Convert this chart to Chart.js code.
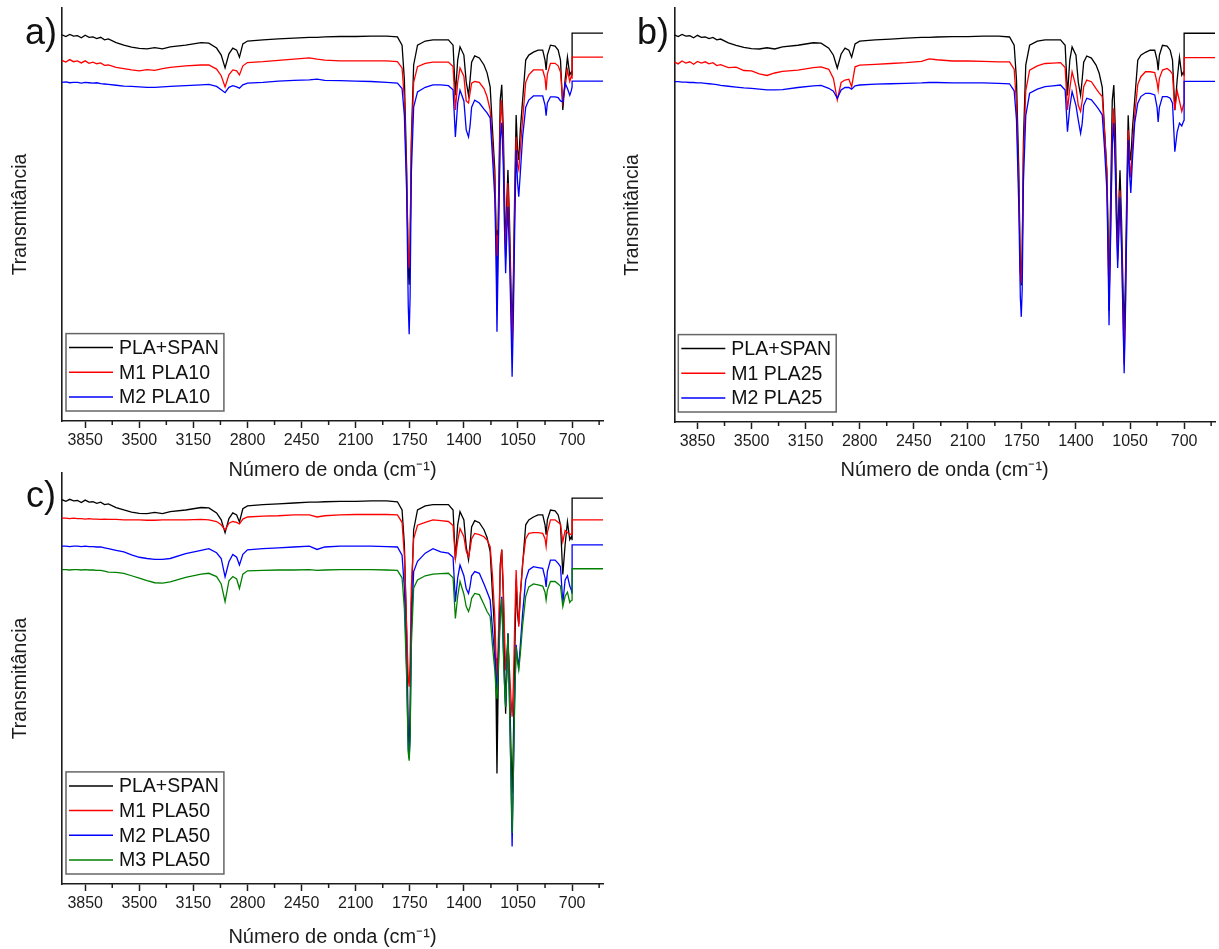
<!DOCTYPE html>
<html lang="pt">
<head>
<meta charset="utf-8">
<title>FTIR - PLA+SPAN</title>
<script src="https://cdn.jsdelivr.net/npm/chart.js@4.4.1/dist/chart.umd.min.js"></script>
<style>
    body { margin: 0; background: #fff; width: 1219px; height: 949px; position: relative; overflow: hidden;
           font-family: "Liberation Sans", Arial, sans-serif; }
    .panel { position: absolute; }
    .tag { position: absolute; font-size: 36px; line-height: 1; color: #111; }
</style>
</head>
<body>
<div class="panel" style="left:0;top:0"><canvas id="chartA" width="612" height="482"></canvas></div>
<div class="panel" style="left:612px;top:0"><canvas id="chartB" width="607" height="482"></canvas></div>
<div class="panel" style="left:0;top:465px"><canvas id="chartC" width="612" height="484"></canvas></div>
<div class="tag" style="left:25px;top:14px">a)</div>
<div class="tag" style="left:637px;top:14px">b)</div>
<div class="tag" style="left:26px;top:477px">c)</div>

<script>
// wavenumber grid (cm-1), shared by every spectrum
const waveNumbers = [
    4000, 3975, 3950, 3925, 3900, 3875, 3850, 3825, 3800, 3775,
    3750, 3725, 3700, 3650, 3600, 3550, 3500, 3450, 3400, 3350,
    3300, 3200, 3100, 3050, 3000, 2970, 2945, 2920, 2895, 2870,
    2852, 2830, 2800, 2700, 2600, 2500, 2400, 2350, 2300, 2200,
    2100, 2000, 1900, 1830, 1800, 1785, 1770, 1760, 1754, 1748,
    1740, 1725, 1700, 1650, 1600, 1550, 1500, 1470, 1455, 1440,
    1425, 1400, 1385, 1370, 1360, 1350, 1330, 1300, 1270, 1250,
    1230, 1215, 1200, 1192, 1186, 1178, 1165, 1155, 1145, 1138,
    1130, 1122, 1115, 1105, 1095, 1088, 1080, 1072, 1062, 1053,
    1045, 1035, 1020, 1000, 980, 950, 920, 890, 875, 868,
    860, 840, 810, 790, 775, 760, 745, 730, 715, 705,
    700, 699.9, 500
];

// transmittance (arbitrary units, offset curves)
const plaSpan = [
    93.5, 93.1, 93.6, 93.2, 93.3, 92.8, 93.4, 92.9, 93.0, 92.6,
    92.9, 92.3, 92.5, 91.6, 91.0, 90.5, 90.2, 90.1, 90.4, 90.1,
    90.6, 91.0, 91.6, 91.5, 90.3, 88.6, 85.5, 88.9, 90.3, 89.8,
    88.1, 91.3, 92.0, 92.3, 92.5, 92.7, 92.9, 92.9, 93.0, 93.1,
    93.1, 93.2, 93.2, 93.0, 91.0, 82.6, 60.8, 36.6, 33.0, 41.4,
    68.0, 86.2, 91.0, 92.0, 92.3, 92.3, 92.3, 91.0, 78.9, 87.4,
    90.6, 88.6, 82.1, 78.9, 82.6, 86.9, 88.4, 87.9, 86.2, 84.3,
    80.9, 70.5, 60.8, 46.2, 26.9, 48.7, 77.7, 81.4, 70.5, 55.9,
    41.4, 53.5, 60.8, 48.7, 31.7, 22.0, 34.1, 53.5, 74.1, 65.6,
    63.2, 70.5, 77.7, 87.4, 88.6, 89.3, 89.8, 89.8, 87.4, 85.0,
    88.6, 91.0, 90.8, 89.8, 87.4, 75.3, 82.6, 88.1, 83.8, 84.5,
    83.8, 93.9, 93.9
];

const m1Pla10 = [
    87.3, 86.9, 87.5, 87.0, 87.2, 86.7, 87.2, 86.6, 86.9, 86.5,
    86.7, 86.1, 86.2, 85.6, 85.3, 85.0, 84.8, 85.1, 84.9, 85.3,
    85.6, 86.0, 86.2, 86.2, 85.2, 83.6, 80.9, 83.8, 85.0, 84.8,
    83.8, 86.0, 86.8, 87.0, 87.3, 87.6, 87.9, 87.6, 87.4, 87.2,
    87.2, 87.2, 87.2, 87.0, 85.5, 78.0, 58.0, 40.0, 37.0, 43.0,
    66.0, 82.0, 85.8, 86.6, 86.9, 86.9, 86.9, 85.8, 75.3, 82.0,
    85.5, 83.5, 77.5, 77.0, 79.5, 81.8, 82.2, 82.0, 80.5, 78.5,
    75.3, 67.0, 58.0, 45.0, 34.9, 45.0, 72.0, 77.7, 66.0, 52.0,
    39.5, 50.0, 57.6, 45.0, 28.0, 16.5, 30.0, 50.0, 68.8, 62.0,
    60.8, 66.0, 73.0, 82.0, 83.8, 85.0, 85.0, 85.0, 83.0, 80.1,
    84.0, 86.6, 86.6, 86.0, 84.5, 77.3, 81.0, 85.0, 82.2, 83.5,
    83.0, 88.1, 88.1
];

const m2Pla10 = [
    82.0, 82.1, 81.9, 82.0, 82.0, 81.8, 82.0, 81.9, 81.8, 81.9,
    81.7, 81.6, 81.5, 81.3, 81.1, 81.0, 80.9, 80.8, 80.8, 80.9,
    81.0, 81.2, 81.4, 81.5, 81.0, 80.2, 79.5, 80.8, 81.2, 80.9,
    80.6, 81.4, 81.8, 82.0, 82.3, 82.5, 82.6, 82.8, 82.5, 82.4,
    82.3, 82.2, 82.0, 81.8, 80.5, 74.0, 55.0, 28.0, 21.0, 30.0,
    60.0, 76.0, 79.7, 80.8, 81.4, 81.4, 81.2, 80.2, 68.8, 77.0,
    80.1, 77.5, 70.5, 68.8, 71.5, 76.0, 77.7, 77.0, 75.5, 74.6,
    73.4, 64.0, 54.0, 40.0, 21.6, 40.0, 68.0, 72.2, 62.0, 48.0,
    35.8, 46.0, 51.9, 40.0, 24.0, 10.7, 25.0, 45.0, 65.6, 58.0,
    54.3, 60.0, 68.8, 76.0, 77.7, 78.7, 78.7, 78.7, 76.5, 73.9,
    77.0, 78.5, 78.5, 78.3, 77.5, 77.3, 81.8, 80.5, 78.9, 80.0,
    80.9, 82.3, 82.3
];

const m1Pla25 = [
    87.0, 86.5, 87.2, 86.7, 87.0, 86.4, 87.1, 86.7, 87.0, 86.5,
    86.8, 86.1, 86.3, 85.6, 85.7, 84.9, 84.8, 84.1, 83.7, 84.3,
    84.7, 85.0, 85.6, 85.8, 85.2, 83.0, 77.8, 82.0, 82.6, 82.8,
    81.0, 85.8, 86.2, 86.4, 86.6, 86.8, 87.1, 87.7, 87.5, 87.2,
    87.2, 87.1, 87.0, 87.0, 85.2, 77.0, 56.0, 36.0, 33.5, 40.0,
    64.0, 80.0, 85.0, 86.0, 86.6, 86.7, 86.8, 85.6, 75.4, 80.5,
    84.6, 81.0, 76.5, 75.0, 77.5, 81.0, 82.6, 82.2, 80.5, 79.5,
    78.6, 70.0, 60.0, 42.0, 28.0, 42.0, 70.0, 75.8, 64.0, 50.0,
    39.0, 48.0, 56.0, 44.0, 26.0, 14.0, 28.0, 48.0, 70.5, 63.0,
    59.0, 66.0, 74.0, 81.5, 83.4, 84.6, 84.6, 84.4, 82.0, 80.2,
    83.0, 85.0, 85.4, 84.8, 84.0, 75.4, 80.0, 77.5, 75.0, 76.5,
    77.0, 88.0, 88.0
];

const m2Pla25 = [
    82.2, 82.2, 82.1, 82.1, 82.0, 82.0, 81.9, 81.9, 81.8, 81.7,
    81.6, 81.5, 81.3, 81.1, 80.9, 80.7, 80.6, 80.4, 80.2, 80.2,
    80.3, 80.8, 81.2, 81.3, 80.6, 79.9, 78.2, 80.2, 80.8, 80.8,
    80.4, 81.2, 81.4, 81.6, 81.7, 81.8, 81.9, 82.0, 82.0, 81.9,
    81.9, 81.9, 81.8, 81.7, 80.0, 73.0, 52.0, 30.0, 25.4, 32.0,
    58.0, 74.0, 79.4, 80.4, 81.0, 81.2, 81.4, 80.2, 70.1, 76.0,
    79.8, 76.5, 72.9, 69.7, 72.0, 76.5, 78.2, 77.8, 76.4, 75.4,
    74.2, 66.0, 56.0, 40.0, 23.4, 40.0, 67.0, 72.2, 60.0, 48.0,
    37.2, 46.0, 54.3, 42.0, 24.0, 11.8, 26.0, 46.0, 68.1, 60.0,
    55.3, 63.0, 72.2, 77.0, 78.6, 79.4, 79.4, 79.0, 76.0, 72.5,
    76.0, 78.6, 78.6, 78.2, 77.0, 65.3, 70.0, 72.2, 71.5, 72.5,
    72.9, 82.3, 82.3
];

const m1Pla50 = [
    89.0, 89.0, 88.9, 89.0, 88.9, 88.9, 88.8, 88.9, 88.8, 88.8,
    88.7, 88.8, 88.7, 88.7, 88.6, 88.6, 88.6, 88.5, 88.5, 88.6,
    88.6, 88.6, 88.7, 88.6, 88.2, 87.4, 86.1, 87.8, 88.2, 88.0,
    87.6, 88.8, 89.3, 89.5, 89.6, 89.8, 89.8, 89.3, 89.6, 89.8,
    89.9, 89.9, 89.9, 89.8, 88.0, 80.0, 62.0, 50.0, 48.0, 54.0,
    72.0, 84.0, 87.3, 88.0, 88.6, 88.4, 88.2, 87.2, 79.2, 83.5,
    86.5, 84.5, 81.0, 79.6, 81.5, 84.0, 85.3, 85.0, 84.5, 83.7,
    82.1, 75.0, 65.0, 55.0, 48.8, 58.0, 76.0, 81.3, 72.0, 62.0,
    52.0, 56.0, 58.0, 52.0, 45.0, 40.7, 48.0, 62.0, 76.4, 68.0,
    62.6, 70.0, 78.0, 84.0, 85.3, 85.5, 85.5, 85.3, 84.0, 82.1,
    85.5, 88.6, 88.6, 88.0, 87.5, 83.3, 86.0, 85.5, 85.0, 85.2,
    85.2, 88.6, 88.6
];

const m2Pla50 = [
    82.2, 82.2, 82.1, 82.2, 82.2, 82.1, 82.2, 82.1, 82.1, 82.0,
    82.0, 81.8, 81.6, 81.2, 80.8, 80.1, 79.5, 79.2, 79.0, 79.0,
    79.2, 80.4, 81.2, 81.6, 80.6, 79.2, 74.7, 78.4, 80.2, 79.5,
    77.6, 80.2, 81.3, 81.6, 81.8, 82.0, 82.2, 81.4, 82.0, 82.2,
    82.2, 82.2, 82.1, 82.0, 80.0, 72.0, 52.0, 33.0, 30.6, 36.0,
    62.0, 76.0, 78.5, 80.5, 81.6, 80.8, 80.5, 79.5, 68.7, 74.5,
    77.6, 75.0, 71.9, 70.7, 72.5, 75.0, 76.0, 75.6, 73.0, 71.1,
    69.1, 62.0, 55.0, 50.0, 47.0, 55.0, 66.0, 69.9, 58.0, 50.0,
    43.1, 52.0, 61.0, 45.0, 25.0, 9.1, 26.0, 44.0, 58.2, 55.0,
    52.9, 58.0, 65.9, 74.0, 76.4, 77.2, 77.0, 76.8, 74.5, 72.3,
    76.0, 78.8, 78.8, 78.0, 77.2, 68.3, 74.0, 75.0, 72.5, 71.5,
    70.7, 82.5, 82.5
];

const m3Pla50 = [
    76.5, 76.5, 76.4, 76.5, 76.5, 76.4, 76.5, 76.4, 76.4, 76.3,
    76.3, 76.1, 75.9, 75.8, 75.6, 75.0, 74.4, 73.8, 73.3, 73.2,
    73.5, 74.6, 75.4, 75.6, 74.8, 73.0, 68.7, 73.8, 74.8, 74.2,
    71.9, 75.4, 76.2, 76.3, 76.4, 76.4, 76.5, 76.3, 76.4, 76.5,
    76.5, 76.5, 76.4, 76.3, 74.5, 67.0, 50.0, 32.0, 30.0, 35.0,
    58.0, 72.0, 74.0, 75.0, 75.4, 75.5, 75.6, 74.5, 64.6, 70.0,
    73.6, 70.5, 67.5, 66.3, 67.5, 69.5, 70.7, 70.4, 68.0, 66.3,
    65.1, 58.0, 52.0, 47.0, 45.0, 52.0, 64.0, 69.5, 57.0, 49.0,
    43.1, 52.0, 61.0, 44.0, 26.0, 12.4, 27.0, 44.0, 57.7, 54.0,
    52.1, 56.0, 63.0, 70.0, 72.3, 73.0, 72.8, 72.5, 71.0, 69.1,
    71.5, 73.6, 73.6, 73.0, 72.5, 67.5, 70.0, 71.0, 68.5, 69.0,
    69.1, 76.7, 76.7
];

// axis ticks
const majorTicks = [3850, 3500, 3150, 2800, 2450, 2100, 1750, 1400, 1050, 700];
const minorTicks = [3675, 3325, 2975, 2625, 2275, 1925, 1575, 1225, 875, 525];

const FONT = '"Liberation Sans", Arial, sans-serif';
const INK = '#1c1c1c';

Chart.defaults.font.family = FONT;
Chart.defaults.color = INK;

// legend box drawn inside the plot, bottom-left (like Origin)
const boxLegend = {
    id: 'boxLegend',
    afterDraw(chart) {
        const { ctx, chartArea } = chart;
        const sets = chart.data.datasets;
        ctx.save();
        ctx.font = '19.5px ' + FONT;
        const maxW = Math.max(...sets.map(d => ctx.measureText(d.label).width));
        const rowH = 24.7;
        const h = 28 + (sets.length - 1) * rowH;
        const left = chartArea.left + 4;
        const top = chartArea.bottom - 10 - h;
        const w = 53 + maxW + 5;
        ctx.fillStyle = '#fff';
        ctx.fillRect(left, top, w, h);
        ctx.strokeStyle = '#666';
        ctx.lineWidth = 1.5;
        ctx.strokeRect(left, top, w, h);
        sets.forEach((d, i) => {
            const y = top + 14 + i * rowH;
            ctx.strokeStyle = d.borderColor;
            ctx.lineWidth = 1.5;
            ctx.beginPath();
            ctx.moveTo(left + 3, y);
            ctx.lineTo(left + 47, y);
            ctx.stroke();
            ctx.fillStyle = '#111';
            ctx.textBaseline = 'middle';
            ctx.fillText(d.label, left + 53, y + 1);
        });
        ctx.restore();
    }
};

// short minor tick marks between the labelled ones
const minorTickMarks = {
    id: 'minorTickMarks',
    afterDraw(chart) {
        const { ctx, chartArea } = chart;
        const xs = chart.scales.x;
        ctx.save();
        ctx.strokeStyle = INK;
        ctx.lineWidth = 1.5;
        minorTicks.forEach(v => {
            const px = xs.getPixelForValue(v);
            ctx.beginPath();
            ctx.moveTo(px, chartArea.bottom);
            ctx.lineTo(px, chartArea.bottom + 4);
            ctx.stroke();
        });
        ctx.restore();
    }
};

function makeSpectrum(canvasId, series, box) {
    const ctx = document.getElementById(canvasId).getContext('2d');
    const n = series.length;
    return new Chart(ctx, {
        type: 'line',
        data: {
            datasets: series.map((s, i) => ({
                label: s.label,
                data: waveNumbers.map((x, k) => ({ x: x, y: s.values[k] })),
                borderColor: s.color,
                borderWidth: 1.3,
                pointRadius: 0,
                tension: 0,
                fill: false,
                order: n - i   // last series drawn on top
            }))
        },
        options: {
            responsive: false,
            animation: false,
            devicePixelRatio: 1,
            layout: { padding: { top: 8, right: box.right, left: 0, bottom: 0 } },
            plugins: {
                legend: { display: false },
                tooltip: { enabled: false }
            },
            scales: {
                x: {
                    type: 'linear',
                    reverse: true,
                    min: 500,
                    max: 4000,
                    afterBuildTicks: (scale) => {
                        scale.ticks = majorTicks.map(v => ({ value: v }));
                    },
                    afterFit: (scale) => { scale.height = box.xHeight; },
                    ticks: {
                        font: { size: 16 },
                        color: INK,
                        padding: 3,
                        maxRotation: 0,
                        autoSkip: false,
                        callback: (v) => String(v)
                    },
                    grid: {
                        drawOnChartArea: false,
                        drawTicks: true,
                        tickLength: 7,
                        tickWidth: 1.5,
                        tickColor: INK
                    },
                    border: { display: true, color: INK, width: 1.6 },
                    title: {
                        display: true,
                        text: 'Número de onda (cm⁻¹)',
                        font: { size: 20 },
                        color: INK,
                        padding: { top: 0, bottom: 0 }
                    }
                },
                y: {
                    min: 0,
                    max: 100,
                    afterFit: (scale) => { scale.width = box.yWidth; },
                    ticks: { display: false },
                    grid: { display: false },
                    border: { display: true, color: INK, width: 1.6 },
                    title: {
                        display: true,
                        text: 'Transmitância',
                        font: { size: 19.5 },
                        color: INK,
                        padding: { top: 9, bottom: 0 }
                    }
                }
            }
        },
        plugins: [boxLegend, minorTickMarks]
    });
}

makeSpectrum('chartA', [
    { label: 'PLA+SPAN', values: plaSpan, color: '#000000' },
    { label: 'M1 PLA10', values: m1Pla10, color: '#ff0000' },
    { label: 'M2 PLA10', values: m2Pla10, color: '#0000ff' }
], { right: 9, yWidth: 62, xHeight: 61 });

makeSpectrum('chartB', [
    { label: 'PLA+SPAN', values: plaSpan, color: '#000000' },
    { label: 'M1 PLA25', values: m1Pla25, color: '#ff0000' },
    { label: 'M2 PLA25', values: m2Pla25, color: '#0000ff' }
], { right: 4, yWidth: 62.3, xHeight: 60 });

makeSpectrum('chartC', [
    { label: 'PLA+SPAN', values: plaSpan, color: '#000000' },
    { label: 'M1 PLA50', values: m1Pla50, color: '#ff0000' },
    { label: 'M2 PLA50', values: m2Pla50, color: '#0000ff' },
    { label: 'M3 PLA50', values: m3Pla50, color: '#008000' }
], { right: 9, yWidth: 62, xHeight: 65 });
</script>
</body>
</html>
